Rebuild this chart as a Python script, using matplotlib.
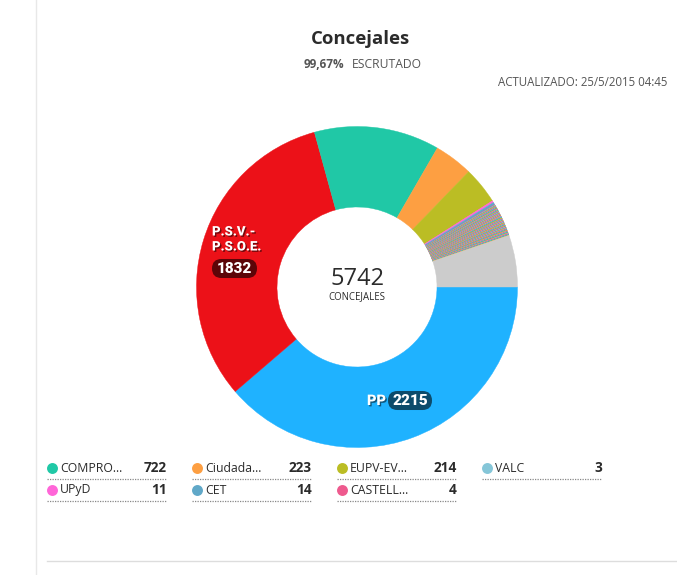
import matplotlib
matplotlib.use('Agg')
import matplotlib.pyplot as plt
import matplotlib.patheffects as pe
from matplotlib.patches import FancyBboxPatch

plt.rcParams['font.family'] = ['Open Sans', 'DejaVu Sans']

# slices, clockwise from 3 o'clock
main_values = [2215, 1832, 722, 223, 214]
main_colors = ['#1fb2ff', '#ec1118', '#20c8a6', '#fd9f42', '#bbbd24']
small_values = [11, 14, 4, 3, 2, 3, 2, 1, 3, 2, 2, 4, 1, 2, 3, 2, 1, 2, 3, 2,
                2, 1, 3, 2, 4, 2, 1, 2, 3, 2, 2, 3, 1, 2, 2, 3, 2, 1, 2, 4,
                2, 3, 1, 2, 2, 3, 2, 2, 1, 3, 2, 2, 4, 1, 2, 3, 2, 2, 1, 2,
                3, 2, 2, 1, 3, 2, 4, 2, 1, 2, 3, 2, 2, 1, 3, 2, 2, 3, 1, 2,
                2, 4, 2, 1, 3, 2, 2, 1, 3, 2]
small_colors = ['#ff66d8', '#60a8c8', '#ee5a8e', '#85c6d8', '#20c8a6', '#fd9f42', '#bbbd24']
other_value = 298
other_color = '#cccccc'

legend_names = ['COMPRO...', 'Ciudada...', 'EUPV-EV...', 'VALC', 'UPyD', 'CET', 'CASTELL...']
legend_values = [722, 223, 214, 3, 11, 14, 4]
legend_colors = ['#20c8a6', '#fd9f42', '#bbbd24', '#85c6d8', '#ff66d8', '#60a8c8', '#ee5a8e']

W, H = 677, 575
fig = plt.figure(figsize=(W / 100, H / 100), dpi=100)
ax = fig.add_axes([0, 0, 1, 1])

values = main_values + small_values + [other_value]
colors = main_colors + [small_colors[i % len(small_colors)] for i in range(len(small_values))] + [other_color]

# y axis runs downwards here, so counterclock=True draws clockwise on screen
wedges, _ = ax.pie(values, colors=colors, startangle=0, counterclock=True, center=(357, 287), radius=160.5,
                   wedgeprops={'width': 80.5}, frame=True)
for w in wedges:
    w.set_edgecolor(w.get_facecolor())
    w.set_linewidth(0.3)
ax.set_xlim(0, W)
ax.set_ylim(H, 0)
ax.set_aspect('equal')
ax.axis('off')

dark = '#2b2b2b'
grey = '#555555'
ax.text(360, 39.5, 'Concejales', ha='center', va='center', fontsize=13.3, fontweight='bold', color=dark)
ax.text(304, 64, '99,67%', ha='left', va='center', fontsize=8.5, fontweight='bold', color=grey)
ax.text(352, 64, 'ESCRUTADO', ha='left', va='center', fontsize=8.7, color=grey)
ax.text(667, 83, 'ACTUALIZADO: 25/5/2015 04:45', ha='right', va='center', fontsize=8.3, color=grey)

ax.text(357, 279, '5742', ha='center', va='center', fontsize=17, color=dark)
ax.text(357, 296.5, 'CONCEJALES', ha='center', va='center', fontsize=6.9, color=dark)

shadow = [pe.withSimplePatchShadow(offset=(1, -1), shadow_rgbFace='#000000', alpha=0.5)]


def pill(x0, x1, yc, color):
    h = 19
    ax.add_patch(FancyBboxPatch((x0 + h / 2, yc - 0.01), x1 - x0 - h, 0.02,
                                boxstyle='round,pad=9.5,rounding_size=9.5', fc=color, ec='none'))


label_font = dict(family=['Roboto', 'DejaVu Sans'], fontweight='black', color='white')
ax.text(212, 232, 'P.S.V.-', ha='left', va='center', fontsize=9.5, path_effects=shadow, **label_font)
ax.text(212, 247, 'P.S.O.E.', ha='left', va='center', fontsize=9.5, path_effects=shadow, **label_font)
pill(212, 257, 268.5, '#5c0508')
ax.text(234.5, 269, '1832', ha='center', va='center', fontsize=11, **label_font)
ax.text(367, 401, 'PP', ha='left', va='center', fontsize=10.5, path_effects=shadow, **label_font)
pill(388, 432, 400.5, '#0c4b6b')
ax.text(410, 401, '2215', ha='center', va='center', fontsize=11, **label_font)

col_x = [47, 192, 337, 482]
row_y = [467, 489]
col_w = 120
for i, (name, val, col) in enumerate(zip(legend_names, legend_values, legend_colors)):
    r, c = divmod(i, 4)
    x, y = col_x[c], row_y[r]
    ax.scatter([x + 5], [y + 1], s=62, color=col, linewidths=0, zorder=3)
    ax.text(x + 13, y + 1, name, ha='left', va='center', fontsize=8.8, color=dark)
    ax.text(x + col_w, y + 1, str(val), ha='right', va='center', fontsize=9.8, fontweight='bold', color=dark)
    ax.plot([x, x + col_w], [y + 11.5, y + 11.5], color='#888888', lw=0.9, ls=(0, (1, 1)))

ax.plot([36, 36], [0, H], color='#e8e8e8', lw=1)
ax.plot([47, W], [561, 561], color='#dddddd', lw=1)

fig.savefig('out.png', dpi=100)
